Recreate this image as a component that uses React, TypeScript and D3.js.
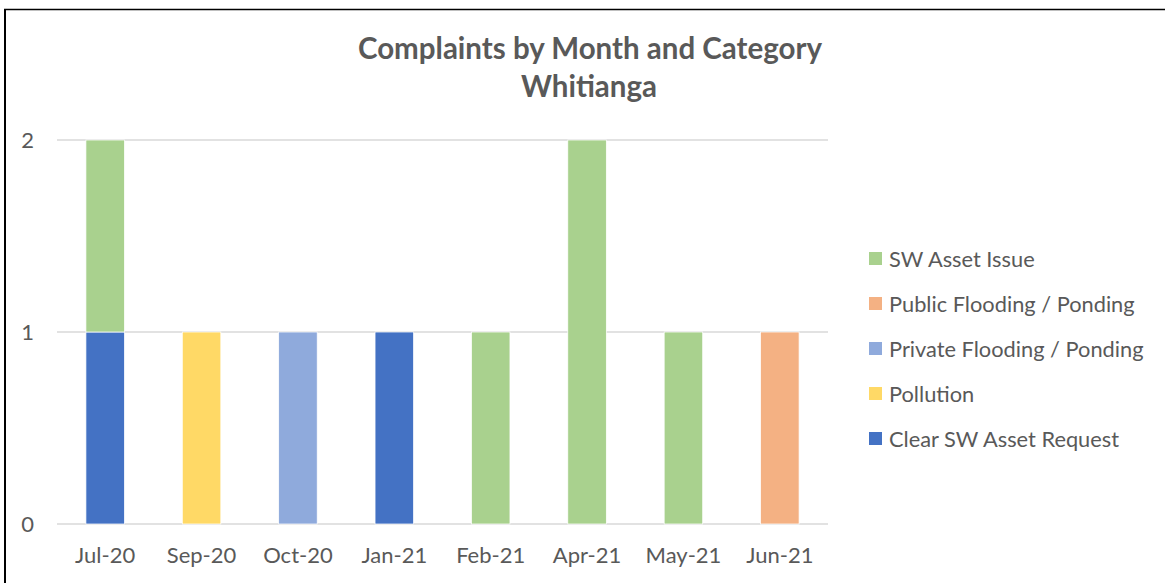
import React from 'react'
import * as d3 from 'd3'

// Complaints by month and category (Whitianga)
const months = ['Jul-20', 'Sep-20', 'Oct-20', 'Jan-21', 'Feb-21', 'Apr-21', 'May-21', 'Jun-21']
const categories = [
  'Clear SW Asset Request',
  'Pollution',
  'Private Flooding / Ponding',
  'Public Flooding / Ponding',
  'SW Asset Issue',
]
const clearRequest = [1, 0, 0, 1, 0, 0, 0, 0]
const pollution = [0, 1, 0, 0, 0, 0, 0, 0]
const privateFlooding = [0, 0, 1, 0, 0, 0, 0, 0]
const publicFlooding = [0, 0, 0, 0, 0, 0, 0, 1]
const swAssetIssue = [1, 0, 0, 0, 1, 2, 1, 0]
const yTicks = [0, 1, 2]

const colors = ['#4472C4', '#FFD966', '#8FAADC', '#F4B183', '#A9D18E']

const W = 1165
const H = 583
const font = 'Lato, "Open Sans", sans-serif'
const textColor = '#595959'

export default function App() {
  const seriesValues = [clearRequest, pollution, privateFlooding, publicFlooding, swAssetIssue]
  const rows = months.map((m, i) => {
    const r: Record<string, any> = { month: m }
    categories.forEach((c, k) => { r[c] = seriesValues[k][i] })
    return r
  })
  const stacked = d3.stack<any>().keys(categories)(rows)

  const x = d3.scaleBand().domain(months).range([57, 828]).paddingInner(0.6).paddingOuter(0.3)
  const y = d3.scaleLinear().domain([0, 2]).range([524, 140])
  const color = d3.scaleOrdinal<string, string>().domain(categories).range(colors)

  // legend lists top series first, like Excel
  const legendItems = categories.slice().reverse()

  return (
    <svg width={W} height={H} style={{ position: 'absolute', left: 0, top: 0, background: '#fff' }}>
      {/* chart frame */}
      <line x1={5} x2={5} y1={9} y2={H} stroke="#000" strokeWidth={2} />
      <line x1={4} x2={W} y1={9.5} y2={9.5} stroke="#000" strokeWidth={1.5} />

      <text x={590} y={59} textAnchor="middle" fontFamily={font} fontWeight="bold" fontSize={29.5} fill={textColor}>
        Complaints by Month and Category
      </text>
      <text x={589} y={97} textAnchor="middle" fontFamily={font} fontWeight="bold" fontSize={29.5} fill={textColor}>
        Whitianga
      </text>

      {yTicks.map(t => (
        <g key={t}>
          <line x1={57} x2={828} y1={y(t)} y2={y(t)} stroke="#d9d9d9" strokeWidth={1.5} />
          <text x={34} y={y(t)} dy="0.35em" textAnchor="end" fontFamily={font} fontSize={22} fill={textColor}>
            {t}
          </text>
        </g>
      ))}

      {stacked.map(s => (
        <g key={s.key} fill={color(s.key)}>
          {s.map((d, i) => (d[1] - d[0] > 0 ? (
            <rect
              key={i}
              x={x(months[i])}
              width={x.bandwidth()}
              y={y(d[1])}
              height={y(d[0]) - y(d[1])}
              stroke="#fff"
              strokeWidth={0.75}
            />
          ) : null))}
        </g>
      ))}

      {months.map(m => (
        <text key={m} x={(x(m) ?? 0) + x.bandwidth() / 2} y={563} textAnchor="middle" fontFamily={font} fontSize={22} fill={textColor}>
          {m}
        </text>
      ))}

      {legendItems.map((c, i) => (
        <g key={c} transform={`translate(869, ${259 + i * 45})`}>
          <rect x={0} y={-7} width={13} height={13} fill={color(c)} />
          <text x={20} y={0} dy="0.35em" fontFamily={font} fontSize={21.8} fill={textColor}>
            {c}
          </text>
        </g>
      ))}
    </svg>
  )
}
